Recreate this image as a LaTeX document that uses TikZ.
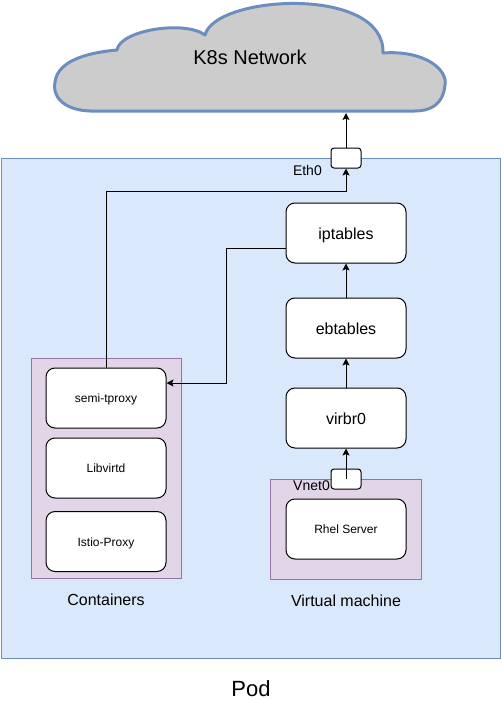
\documentclass[tikz,border=0pt]{standalone}
\usepackage{fontspec}
\setmainfont{Liberation Sans}
\usetikzlibrary{arrows.meta,calc}
\definecolor{podfill}{HTML}{DAE8FC}
\definecolor{podline}{HTML}{6C8EBF}
\definecolor{grpfill}{HTML}{E1D5E7}
\definecolor{grpline}{HTML}{9673A6}
\definecolor{cloudfill}{HTML}{CCCCCC}
\newcommand{\fsz}[1]{\fontsize{#1}{#1}\selectfont}
\begin{document}
\begin{tikzpicture}[x=1pt,y=-1pt,
  bigbox/.style={draw=black,line width=1pt,fill=white,rounded corners=9pt,minimum width=120pt,minimum height=60pt,inner sep=0pt,font=\fsz{16},text height=16.5pt,text depth=3.3pt},
  smallbox/.style={draw=black,line width=1pt,fill=white,rounded corners=9pt,minimum width=120pt,minimum height=60pt,inner sep=0pt,font=\fsz{12},text height=11.5pt,text depth=2.5pt},
  port/.style={draw=black,line width=1pt,fill=white,rounded corners=3pt,minimum width=30pt,minimum height=20pt,inner sep=0pt},
  grp/.style={draw=grpline,fill=grpfill,line width=1pt},
  lbl/.style={inner sep=0pt,font=\fsz{14}},
  caption/.style={inner sep=0pt,font=\fsz{16}},
  arr/.style={draw=black,line width=1pt,-{Stealth[length=7pt,width=7pt,inset=1.5pt]}}]
\useasboundingbox (0,0) rectangle (501,701);
% pod
\draw[draw=podline,fill=podfill,line width=1pt] (1,158) rectangle (500,658);
\node[inner sep=0pt,font=\fsz{22}] (podlbl) at (251,689) {Pod};
% cloud
\draw[draw=podline,fill=cloudfill,line width=3pt,line join=round]
  (90,111) .. controls (62,110) and (52,95) .. (55,82)
  .. controls (58,58) and (95,52) .. (117,50)
  .. controls (120,30) and (185,20) .. (205,35)
  .. controls (215,-5) and (385,-15) .. (383,53)
  .. controls (425,50) and (448,70) .. (445,85)
  .. controls (443,105) and (430,111) .. (415,111)
  -- cycle;
\node[inner sep=0pt,font=\fsz{20}] (cloud) at (250,57) {K8s Network};
\coordinate (cloudbot) at (346,113);
% groups
\draw[grp] (31,358) rectangle (181,578);
\draw[grp] (270,479) rectangle (421,579);
\node[caption] (contlbl) at (106,600) {Containers};
\node[caption] (vmlbl) at (346,601) {Virtual machine};
% boxes
\node[bigbox] (ipt) at (346,233) {iptables};
\node[bigbox] (ebt) at (346,328) {ebtables};
\node[bigbox] (vir) at (346,418) {virbr0};
\node[smallbox] (rhel) at (346,529) {Rhel Server};
\node[smallbox] (semi) at (106,398) {semi-tproxy};
\node[smallbox] (libv) at (106,468) {Libvirtd};
\node[smallbox] (istio) at (106,541.5) {Istio-Proxy};
% ports
\node[port] (eth0) at (346,158) {};
\node[lbl,anchor=east] (eth0lbl) at (322,170) {Eth0};
\node[port] (vnet0) at (346,479) {};
\node[lbl,anchor=east] (vnet0lbl) at (330,486) {Vnet0};
% connectors
\draw[arr] (eth0.north) -- (cloudbot);
\draw[arr] (ebt.north) -- (ipt.south);
\draw[arr] (vir.north) -- (ebt.south);
\draw[arr] (vnet0.center) -- (vir.south);
\draw[arr] (semi.north) |- ($(eth0.south)+(0,23)$) -- (eth0.south);
\draw[arr] ($(ipt.west)+(0,15)$) -- ++(-59,0) |- ($(semi.east)+(0,-15)$);
\end{tikzpicture}
\end{document}
